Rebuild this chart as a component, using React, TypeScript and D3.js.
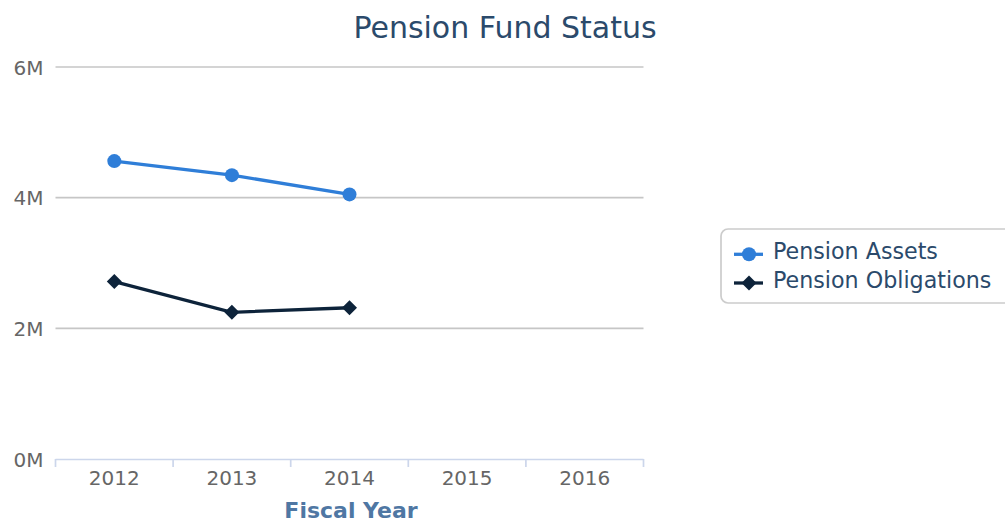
import React from "react";
import * as d3 from "d3";

const categories = ["2012", "2013", "2014", "2015", "2016"];
const pensionAssets: (number | null)[] = [4.56e6, 4.345e6, 4.05e6, null, null];
const pensionObligations: (number | null)[] = [2.715e6, 2.245e6, 2.315e6, null, null];
const yTicks = [0, 2e6, 4e6, 6e6];

const W = 1005;
const H = 522;
const FONT = "'DejaVu Sans', sans-serif";

export default function App() {
  const x = d3.scaleBand<string>().domain(categories).range([55.5, 643.5]);
  const y = d3.scaleLinear().domain([0, 6e6]).range([459, 67]);
  const cx = (c: string) => (x(c) as number) + x.bandwidth() / 2;

  const mkLine = (vals: (number | null)[]) =>
    d3
      .line<number | null>()
      .defined((d) => d != null)
      .x((_, i) => cx(categories[i]))
      .y((d) => y(d as number))(vals) || "";

  const boundaries = categories.map((c) => x(c) as number).concat([643.5]);
  const diamond = (px: number, py: number, r: number) =>
    `M${px},${py - r}L${px + r},${py}L${px},${py + r}L${px - r},${py}Z`;

  return (
    <svg width={W} height={H} style={{ position: "absolute", left: 0, top: 0, fontFamily: FONT }}>
      <rect x={0} y={0} width={W} height={H} fill="#fff" />
      <text x={505} y={38} textAnchor="middle" fontSize={30} fill="#2b4a6b">
        Pension Fund Status
      </text>
      {yTicks.map((t) => (
        <g key={t}>
          {t !== 0 && (
            <line x1={55.5} x2={643.5} y1={y(t)} y2={y(t)} stroke="#c6c6c6" strokeWidth={1.7} />
          )}
          <text x={43.5} y={y(t) + 7.5} textAnchor="end" fontSize={20} fill="#666">
            {d3.format("d")(t / 1e6) + "M"}
          </text>
        </g>
      ))}
      <line x1={55.5} x2={643.5} y1={459.5} y2={459.5} stroke="#ccd6eb" strokeWidth={1.7} />
      {boundaries.map((b, i) => (
        <line key={i} x1={b} x2={b} y1={459} y2={467} stroke="#ccd6eb" strokeWidth={1.7} />
      ))}
      {categories.map((c) => (
        <text key={c} x={cx(c)} y={485} textAnchor="middle" fontSize={20} fill="#666">
          {c}
        </text>
      ))}
      <text x={351} y={517.5} textAnchor="middle" fontSize={22} fontWeight="bold" fill="#4f77a3">
        Fiscal Year
      </text>

      <path d={mkLine(pensionAssets)} fill="none" stroke="#2f7ed8" strokeWidth={3.3} />
      {pensionAssets.map((v, i) =>
        v == null ? null : <circle key={i} cx={cx(categories[i])} cy={y(v)} r={7} fill="#2f7ed8" />
      )}
      <path d={mkLine(pensionObligations)} fill="none" stroke="#0d233a" strokeWidth={3.3} />
      {pensionObligations.map((v, i) =>
        v == null ? null : <path key={i} d={diamond(cx(categories[i]), y(v), 7.5)} fill="#0d233a" />
      )}

      <rect x={721} y={229} width={300} height={74} rx={7} fill="#fff" stroke="#cccccc" strokeWidth={1.7} />
      <line x1={734} x2={763} y1={254.3} y2={254.3} stroke="#2f7ed8" strokeWidth={3.3} />
      <circle cx={749} cy={254.3} r={7} fill="#2f7ed8" />
      <text x={773} y={259} fontSize={22.2} fill="#2b4a6b">Pension Assets</text>
      <line x1={734} x2={763} y1={283} y2={283} stroke="#0d233a" strokeWidth={3.3} />
      <path d={diamond(749, 283, 7.5)} fill="#0d233a" />
      <text x={773} y={287.5} fontSize={22.2} fill="#2b4a6b">Pension Obligations</text>
    </svg>
  );
}
